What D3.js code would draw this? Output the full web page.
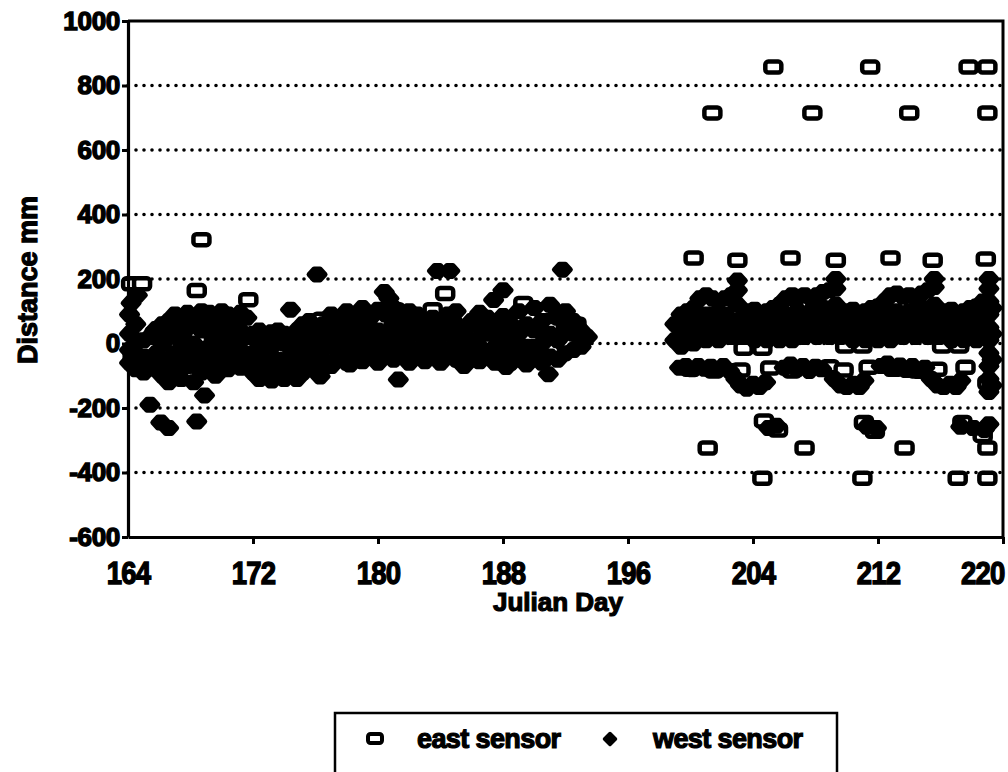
<!DOCTYPE html>
<html>
<head>
<meta charset="utf-8">
<style>
body { margin: 0; background: #fff; }
text { font-family: "Liberation Sans", Arial, sans-serif; font-weight: bold; fill: #000; }
</style>
</head>
<body>
<svg width="1008" height="772"></svg>
<script src="https://d3js.org/d3.v7.min.js"></script>
<script>
// axis ticks
const xTicks = [164, 172, 180, 188, 196, 204, 212, 220];
const yTicks = [-600, -400, -200, 0, 200, 400, 600, 800, 1000];
const legendItems = ["east sensor", "west sensor"];

// east sensor readings [julian day, mm]
const eastSensor = [
  [164.2,185],[164.9,185],[164.3,-40],[164.8,-80],[165.7,30],[168.4,164],[168.7,322],[171.7,136],
  [166.5,0],[167.5,40],[168.5,-40],[169.5,20],[170.5,60],[171.0,-20],[172.5,10],[173.5,-30],
  [174.5,20],[175.5,-10],[176.8,10],[178.5,-20],[179.3,70],[180.0,20],[181.8,-20],[182.6,40],
  [183.0,-10],[184.8,30],[186.5,70],[187.2,0],[188.0,-30],[188.8,40],[190.0,-10],[191.0,50],
  [192.0,0],[192.7,60],
  [176.4,75],[177.2,65],[178.0,55],[181.1,105],[183.5,105],[184.3,155],[185.9,-50],[189.3,124],[190.5,105],
  // 199 - 220
  [205.3,857],[211.5,857],[217.8,857],[219.0,857],
  [201.4,715],[207.8,715],[214.0,715],[219.0,715],
  [200.2,265],[203.0,258],[206.4,265],[209.3,258],[212.8,265],[215.5,258],[218.9,262],
  [201.1,-324],[207.3,-324],[213.7,-324],[219.0,-324],
  [204.6,-418],[211.0,-418],[217.1,-418],[219.0,-418],
  [204.7,-240],[205.6,-268],[211.1,-245],[211.8,-272],[217.4,-245],[218.7,-285],
  [201.0,125],[207.0,125],[213.3,125],
  [200.5,60],[202.0,70],[204.0,60],[206.0,70],[208.0,60],[210.0,65],[212.0,60],[214.0,70],[216.0,60],[218.0,70],
  [203.4,-15],[204.6,-15],[209.9,-8],[211.0,-8],[216.1,-8],[217.2,-8],
  [203.2,-82],[205.1,-76],[208.9,-72],[209.8,-82],[211.4,-74],[215.8,-80],[217.6,-74],[219.0,-122],
  [200.0,-80],[201.5,-85],[206.5,-85],[213.0,-80],[214.5,-85]
];

// west sensor readings [julian day, mm]
const westSensor = [
  [164.1,-60],[164.1,-20],[164.1,30],[164.1,90],[164.2,125],
  [164.5,-80],[164.5,0],[164.5,60],[164.6,150],
  [165.0,-90],[165.0,-40],[165.0,10],
  [165.4,-190],[165.4,-60],[165.4,20],
  [165.8,-80],[165.8,-30],[165.8,45],
  [166.1,-245],[166.2,-100],[166.2,-50],[166.2,0],[166.2,60],
  [166.6,-262],[166.6,-120],[166.6,-60],[166.6,20],[166.6,70],
  [167.0,-90],[167.0,-30],[167.0,40],[167.0,90],
  [167.4,-110],[167.4,-50],[167.4,10],[167.4,80],
  [167.8,-70],[167.8,-20],[167.8,50],[167.8,95],
  [168.2,-120],[168.2,-60],[168.2,0],[168.2,70],
  [168.4,-242],[168.9,-161],
  [168.7,-90],[168.7,-30],[168.7,40],[168.7,100],
  [169.2,-70],[169.2,-10],[169.2,60],[169.2,95],
  [169.6,-100],[169.6,-40],[169.6,20],[169.6,80],
  [170.0,-60],[170.0,0],[170.0,50],[170.0,100],
  [170.4,-80],[170.4,-30],[170.4,30],[170.4,90],
  [170.8,-60],[170.8,10],[170.8,70],
  [171.2,-75],[171.2,-20],[171.2,40],[171.2,95],
  [171.6,-50],[171.6,20],[171.6,80],
  [172.0,-90],[172.0,-30],[172.0,30],
  [172.4,-110],[172.4,-60],[172.4,0],[172.4,40],
  [172.8,-95],[172.8,-40],[172.8,20],
  [173.2,-115],[173.2,-70],[173.2,-10],[173.2,35],
  [173.6,-100],[173.6,-50],[173.6,10],[173.6,40],
  [174.0,-110],[174.0,-60],[174.0,0],[174.0,30],
  [174.4,-95],[174.4,-40],[174.4,20],[174.4,105],
  [174.8,-110],[174.8,-70],[174.8,-10],[174.8,40],
  [175.2,-90],[175.2,-30],[175.2,30],[175.2,60],
  [175.6,-60],[175.6,0],[175.6,50],[175.6,70],
  [176.1,214],[176.3,-102],
  [176.0,-80],[176.0,-20],[176.0,40],
  [176.5,-50],[176.5,10],[176.5,60],
  [177.0,-70],[177.0,-10],[177.0,40],[177.0,90],
  [177.5,-40],[177.5,20],[177.5,80],
  [178.0,-60],[178.0,0],[178.0,50],[178.0,100],
  [178.2,-65],
  [178.5,-30],[178.5,30],[178.5,90],
  [179.0,-55],[179.0,-10],[179.0,50],[179.0,110],
  [179.5,-40],[179.5,20],[179.5,80],
  [180.0,-60],[180.0,-10],[180.0,40],[180.0,105],
  [180.4,160],[180.7,140],
  [180.5,-30],[180.5,30],[180.5,90],
  [181.0,-50],[181.0,0],[181.0,60],[181.0,110],
  [181.3,-112],
  [181.5,-40],[181.5,20],[181.5,80],
  [182.0,-60],[182.0,-10],[182.0,50],[182.0,100],
  [182.5,-30],[182.5,30],[182.5,90],
  [183.0,-55],[183.0,0],[183.0,60],
  [183.5,-40],[183.5,20],[183.5,80],
  [183.8,225],[184.6,225],
  [184.0,-60],[184.0,-10],[184.0,50],
  [184.5,-30],[184.5,30],[184.5,90],
  [185.0,-50],[185.0,0],[185.0,60],[185.0,100],
  [185.5,-70],[185.5,-20],[185.5,40],
  [186.0,-40],[186.0,10],[186.0,70],
  [186.5,-55],[186.5,-10],[186.5,50],[186.5,95],
  [187.0,-30],[187.0,30],[187.0,80],
  [187.4,135],[188.0,165],
  [187.5,-60],[187.5,-10],[187.5,50],
  [188.0,-40],[188.0,20],[188.0,85],
  [188.2,-73],
  [188.5,-60],[188.5,0],[188.5,60],
  [189.0,-40],[189.0,30],[189.0,100],
  [189.5,-65],[189.5,-10],[189.5,60],
  [190.0,-30],[190.0,40],[190.0,110],
  [190.5,-60],[190.5,0],[190.5,70],
  [190.9,-95],
  [191.0,-40],[191.0,30],[191.0,120],
  [191.5,-50],[191.5,10],[191.5,80],
  [191.8,229],
  [192.0,-30],[192.0,40],[192.0,100],
  [192.5,-20],[192.5,30],[192.5,70],
  [193.0,-10],[193.0,40],[193.4,20],
  // 199 - 220, upper band
  [199.0,10],[199.0,60],
  [199.4,-10],[199.4,40],[199.4,90],
  [199.8,20],[199.8,70],[199.8,100],
  [200.2,0],[200.2,50],[200.2,110],
  [200.6,30],[200.6,80],[200.6,140],
  [201.0,10],[201.0,60],[201.0,150],
  [201.4,30],[201.4,90],[201.4,140],
  [201.8,10],[201.8,60],[201.8,130],
  [202.2,30],[202.2,90],[202.2,140],
  [202.6,20],[202.6,70],[202.6,150],
  [203.0,40],[203.0,120],[203.0,165],[203.0,195],
  [203.3,20],[203.3,80],
  [203.7,40],[203.7,100],
  [204.1,10],[204.1,60],[204.1,105],
  [204.5,30],[204.5,80],
  [204.9,10],[204.9,60],[204.9,100],
  [205.3,30],[205.3,80],[205.3,110],
  [205.7,10],[205.7,60],[205.7,120],
  [206.1,30],[206.1,90],[206.1,140],
  [206.5,10],[206.5,60],[206.5,150],
  [206.9,40],[206.9,100],[206.9,145],
  [207.3,20],[207.3,70],[207.3,150],
  [207.7,40],[207.7,100],[207.7,140],
  [208.1,20],[208.1,70],[208.1,150],
  [208.5,40],[208.5,110],[208.5,160],
  [208.9,20],[208.9,80],[208.9,165],
  [209.3,40],[209.3,120],[209.3,170],[209.3,200],
  [209.6,20],[209.6,80],
  [210.0,40],[210.0,100],
  [210.4,10],[210.4,60],[210.4,105],
  [210.8,30],[210.8,80],
  [211.2,10],[211.2,60],[211.2,100],
  [211.6,30],[211.6,80],[211.6,110],
  [212.0,10],[212.0,60],[212.0,115],
  [212.4,30],[212.4,90],[212.4,130],
  [212.8,10],[212.8,60],[212.8,150],
  [213.2,40],[213.2,100],[213.2,155],
  [213.6,20],[213.6,70],[213.6,145],
  [214.0,40],[214.0,100],[214.0,150],
  [214.4,20],[214.4,70],[214.4,140],
  [214.8,40],[214.8,110],[214.8,155],
  [215.2,20],[215.2,80],[215.2,165],
  [215.6,40],[215.6,120],[215.6,175],[215.6,200],
  [215.9,20],[215.9,80],
  [216.3,40],[216.3,100],
  [216.7,10],[216.7,60],[216.7,105],
  [217.1,30],[217.1,80],
  [217.5,10],[217.5,60],[217.5,100],
  [217.9,30],[217.9,80],[217.9,110],
  [218.3,10],[218.3,60],[218.3,115],
  [218.7,30],[218.7,90],[218.7,130],
  [219.1,-150],[219.1,-110],[219.1,-70],[219.1,-30],[219.1,10],[219.1,50],[219.1,90],[219.1,130],[219.1,170],[219.1,200],
  [219.3,-130],[219.3,-50],[219.3,30],[219.3,110],
  // lower band
  [199.3,-75],[199.7,-70],[200.1,-80],[200.5,-70],[200.9,-78],[201.3,-72],[201.7,-80],[202.1,-70],[202.5,-85],
  [202.9,-110],[203.2,-130],[203.6,-140],[204.0,-125],[204.4,-135],[204.8,-120],
  [206.0,-75],[206.4,-65],[206.8,-80],[207.2,-70],[207.6,-85],[208.0,-72],[208.4,-80],
  [209.2,-110],[209.6,-130],[210.0,-135],[210.4,-125],[210.8,-135],[211.1,-115],
  [212.2,-70],[212.6,-62],[213.0,-78],[213.4,-68],[213.8,-82],[214.2,-70],[214.6,-85],[215.0,-75],
  [215.4,-110],[215.8,-130],[216.2,-135],[216.6,-125],[217.0,-135],[217.3,-115],
  // around -260
  [205.0,-262],[205.5,-255],[211.3,-258],[211.9,-262],[217.3,-258],[218.1,-262],[218.8,-268],[219.1,-250]
];

const svg = d3.select("svg");
const x = d3.scaleLinear().domain([164, 220]).range([128, 1003]);
const y = d3.scaleLinear().domain([-600, 1000]).range([537, 21]);

// dotted grid lines
svg.append("g").selectAll("line")
  .data(yTicks.filter(d => d > -600 && d < 1000))
  .enter().append("line")
  .attr("x1", x(164)).attr("x2", x(220))
  .attr("y1", d => y(d)).attr("y2", d => y(d))
  .attr("stroke", "#000").attr("stroke-width", 3.6)
  .attr("stroke-linecap", "round").attr("stroke-dasharray", "0,8");

// frame (top and right)
svg.append("path")
  .attr("d", `M${x(164)},${y(1000)}H${x(220)}V${y(-600)}`)
  .attr("fill", "none").attr("stroke", "#000").attr("stroke-width", 3);

// east sensor squares
svg.append("g").selectAll("rect").data(eastSensor).enter().append("rect")
  .attr("x", d => x(d[0]) - 8).attr("y", d => y(d[1]) - 5.5)
  .attr("width", 16).attr("height", 11).attr("rx", 3)
  .attr("fill", "#fff").attr("stroke", "#000").attr("stroke-width", 4.5);

// west sensor diamonds
const diamond = "M-8,0L-3,-5.5L3,-5.5L8,0L3,5.5L-3,5.5Z";
svg.append("g").selectAll("path").data(westSensor).enter().append("path")
  .attr("d", diamond)
  .attr("transform", d => `translate(${x(d[0])},${y(d[1])})`)
  .attr("fill", "#000").attr("stroke", "#000").attr("stroke-width", 5)
  .attr("stroke-linejoin", "round");

// axes
const yAxis = svg.append("g").attr("transform", `translate(${x(164)},0)`)
  .call(d3.axisLeft(y).tickValues(yTicks).tickFormat(d => String(d))
    .tickSize(6).tickSizeOuter(0).tickPadding(2));
const xAxis = svg.append("g").attr("transform", `translate(0,${y(-600)})`)
  .call(d3.axisBottom(x).tickValues(xTicks).tickFormat(d => String(d))
    .tickSize(7).tickSizeOuter(0).tickPadding(17));

[yAxis, xAxis].forEach(a => {
  a.select(".domain").attr("stroke", "#000").attr("stroke-width", 3.2);
  a.selectAll(".tick line").attr("stroke", "#000").attr("stroke-width", 3);
  a.selectAll(".tick text").attr("fill", "#000").attr("stroke", "#000").attr("stroke-width", 1.4)
    .style("font-family", '"Liberation Sans", Arial, sans-serif').style("font-weight", "bold");
});
yAxis.selectAll(".tick text").style("font-size", "26px").attr("letter-spacing", "-0.3");
xAxis.selectAll(".tick text").style("font-size", "32px").attr("transform", "scale(0.86,1)")
  .attr("letter-spacing", "-1");
xAxis.selectAll(".tick").filter(d => d === 220).select("text")
  .attr("text-anchor", "end").attr("x", 1);
xAxis.selectAll(".tick").filter(d => d === 164).select("line").remove();

// axis titles
svg.append("text")
  .attr("transform", "translate(37,280) rotate(-90)")
  .attr("text-anchor", "middle").attr("stroke", "#000").attr("stroke-width", 1.2)
  .style("font-size", "27px").text("Distance mm");
svg.append("text")
  .attr("x", 558).attr("y", 611).attr("text-anchor", "middle")
  .attr("stroke", "#000").attr("stroke-width", 1.2)
  .style("font-size", "26px").text("Julian Day");

// legend
const legend = svg.append("g");
legend.append("rect").attr("x", 335).attr("y", 713).attr("width", 502).attr("height", 90)
  .attr("fill", "#fff").attr("stroke", "#000").attr("stroke-width", 2.5);
legend.append("rect").attr("x", 368).attr("y", 734).attr("width", 14).attr("height", 9).attr("rx", 2.5)
  .attr("fill", "#fff").attr("stroke", "#000").attr("stroke-width", 4);
legend.append("path").attr("d", "M-5.5,0L0,-5.5L5.5,0L0,5.5Z").attr("transform", "translate(610,739)")
  .attr("fill", "#000").attr("stroke", "#000").attr("stroke-width", 3.5).attr("stroke-linejoin", "round");
legend.selectAll("text.lab").data(legendItems).enter().append("text")
  .attr("class", "lab")
  .attr("x", (d, i) => i === 0 ? 417 : 653).attr("y", 748)
  .attr("stroke", "#000").attr("stroke-width", 1.2)
  .style("font-size", "27px").attr("letter-spacing", "-0.6").text(d => d);
</script>
</body>
</html>
